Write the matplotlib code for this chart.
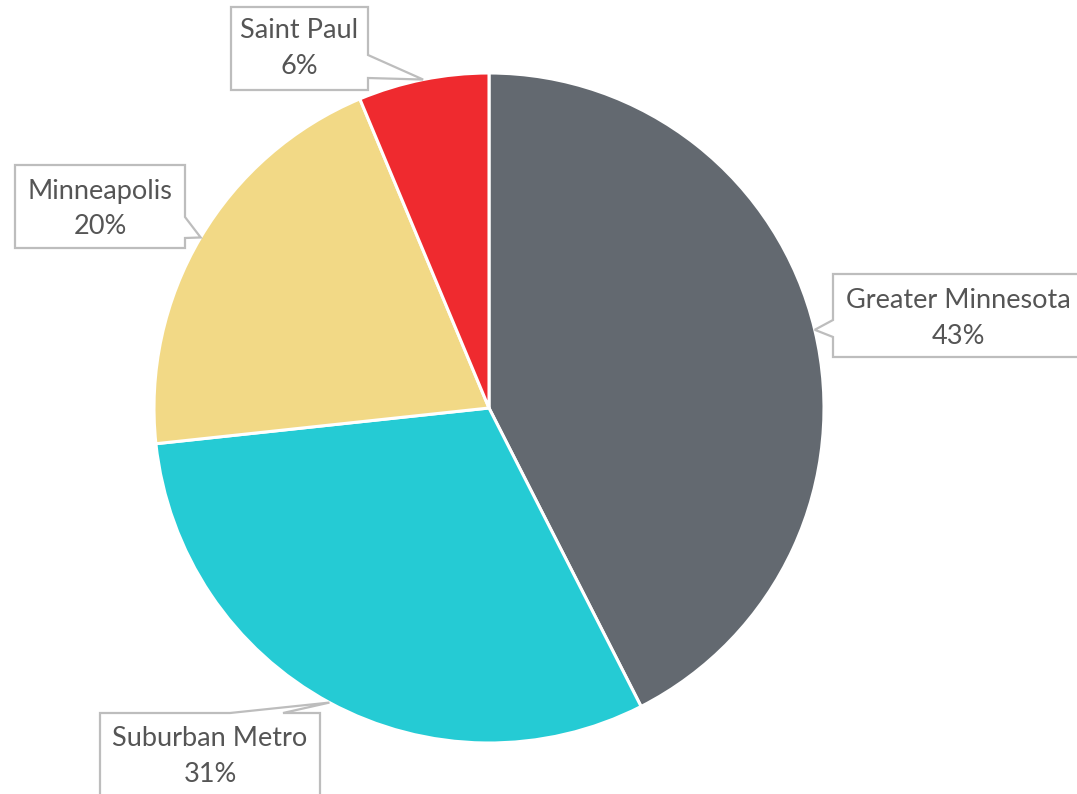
import matplotlib
matplotlib.use("Agg")
import matplotlib.pyplot as plt
from matplotlib.patches import Polygon
import numpy as np

# ---- data ----
categories = ["Greater Minnesota", "Suburban Metro", "Minneapolis", "Saint Paul"]
values = [42.5, 30.8, 20.4, 6.3]
pct_labels = ["43%", "31%", "20%", "6%"]
colors = ["#636970", "#25CBD4", "#F2D986", "#EF2A2F"]

W, H = 1077, 794
fig = plt.figure(figsize=(W / 100, H / 100), dpi=100)
ax = fig.add_axes([0, 0, 1, 1])

CX, CY, R = 489, 408, 335  # pixel coords (y down)

wedges, _ = ax.pie(values, colors=colors, startangle=90, counterclock=False,
                   center=(CX, H - CY), radius=R,
                   wedgeprops=dict(edgecolor="white", linewidth=2.2))
ax.set_xlim(0, W)
ax.set_ylim(0, H)
ax.set_aspect("equal")
ax.axis("off")

def to_y(y):
    return H - y

# callout layout: box (x0, y0, x1, y1) in pixel coords (y down), side, pointer base, text centre
callouts = {
    "Greater Minnesota": dict(box=(833, 274, 1095, 357), side="left", base=(337, 320), text=(958, 300)),
    "Suburban Metro": dict(box=(100, 713, 320, 820), side="top", base=(230, 283), text=(210, 739)),
    "Minneapolis": dict(box=(15, 165, 185, 248), side="right", base=(217, 238), text=(100, 191)),
    "Saint Paul": dict(box=(231, 7, 368, 90), side="right", base=(55, 78), text=(299, 31)),
}

for w, cat, pl in zip(wedges, categories, pct_labels):
    mid = np.deg2rad((w.theta1 + w.theta2) / 2)
    tip = (CX + R * np.cos(mid), CY - R * np.sin(mid))
    c = callouts[cat]
    x0, y0, x1, y1 = c["box"]
    a, b = c["base"]
    side = c["side"]
    verts = [(x0, y0)]
    if side == "top":
        verts += [(a, y0), tip, (b, y0)]
    verts += [(x1, y0)]
    if side == "right":
        verts += [(x1, a), tip, (x1, b)]
    verts += [(x1, y1)]
    verts += [(x0, y1)]
    if side == "left":
        verts += [(x0, a), tip, (x0, b)]
    verts = [(vx, to_y(vy)) for vx, vy in verts]
    ax.add_patch(Polygon(verts, closed=True, facecolor="white", edgecolor="#BDBDBD",
                         linewidth=1.6, zorder=5, clip_on=False))
    tx, ty = c["text"]
    ax.text(tx, to_y(ty), cat, ha="center", va="center", fontsize=19.5,
            family="Lato", color="#555555", zorder=6)
    ax.text(tx, to_y(ty + 36), pl, ha="center", va="center", fontsize=19.5,
            family="Lato", color="#555555", zorder=6)

fig.savefig("out.png", dpi=100, facecolor="white")
